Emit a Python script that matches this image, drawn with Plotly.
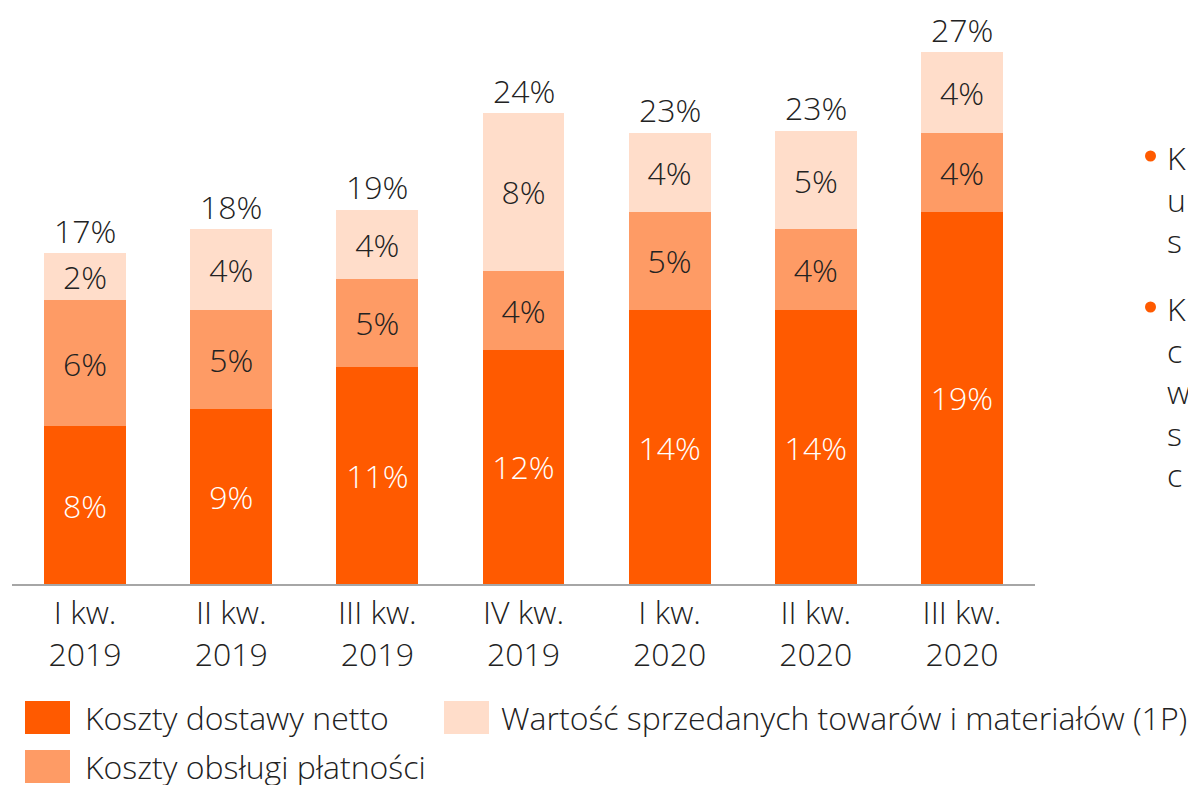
import plotly.graph_objects as go

categories = ["I kw.<br>2019", "II kw.<br>2019", "III kw.<br>2019", "IV kw.<br>2019",
              "I kw.<br>2020", "II kw.<br>2020", "III kw.<br>2020"]
koszty_dostawy = [8.0, 8.9, 11.0, 11.9, 13.9, 13.9, 18.9]
koszty_oblsugi = [6.4, 5.0, 4.5, 4.0, 5.0, 4.1, 4.0]
wartosc_1p = [2.4, 4.1, 3.5, 8.0, 4.0, 5.0, 4.1]
totals = [a + b + c for a, b, c in zip(koszty_dostawy, koszty_oblsugi, wartosc_1p)]

series_names = ["Koszty dostawy netto", "Koszty obsługi płatności",
                "Wartość sprzedanych towarów i materiałów (1P)"]
colors = ["#ff5a00", "#fe9b65", "#ffddca"]
text_colors = ["#ffffff", "#222222", "#222222"]

FONT = "Open Sans"
FS = 32
W, H = 1188, 785
L, R, T, B = 12, 153, 10, 201
plot_w = W - L - R
plot_h = H - T - B
px_per_unit = 19.7
y_max = plot_h / px_per_unit

fig = go.Figure()
for vals, name, col, tcol in zip([koszty_dostawy, koszty_oblsugi, wartosc_1p],
                                 series_names, colors, text_colors):
    fig.add_trace(go.Bar(
        x=categories, y=vals, name=name, marker=dict(color=col, line=dict(width=0)),
        texttemplate="%{y:.0f}%", textposition="inside", insidetextanchor="middle",
        textangle=0, textfont=dict(family=FONT, size=FS, color=tcol, weight=300),
        showlegend=False, hoverinfo="skip",
    ))

def px_to_paper_x(px):
    return (px - L) / plot_w

def px_to_paper_y(py):
    return (H - B - py) / plot_h

shapes = []
annotations = []

# totals above the bars
for cat, tot in zip(categories, totals):
    annotations.append(dict(x=cat, y=tot, xref="x", yref="y", text=f"{tot:.0f}%",
                            showarrow=False, yanchor="middle", yshift=23,
                            font=dict(family=FONT, size=FS, color="#222222", weight=300)))

legend_items = [
    (0, 25, 701, 83),
    (2, 444, 701, 499),
    (1, 25, 750, 83),
]
for idx, sx, sy, tx in legend_items:
    shapes.append(dict(type="rect", xref="paper", yref="paper",
                       x0=px_to_paper_x(sx), x1=px_to_paper_x(sx + 45),
                       y0=px_to_paper_y(sy + 33), y1=px_to_paper_y(sy),
                       fillcolor=colors[idx], line=dict(width=0)))
    annotations.append(dict(xref="paper", yref="paper", x=px_to_paper_x(tx),
                            y=px_to_paper_y(sy + 16), xanchor="left", yanchor="middle",
                            text=series_names[idx], showarrow=False,
                            font=dict(family=FONT, size=FS, color="#222222", weight=300)))

# side bullets (cut off at the right edge in the original)
for by, letters in [(156, "K<br>u<br>s"), (307, "K<br>c<br>w<br>s<br>c")]:
    shapes.append(dict(type="circle", xref="paper", yref="paper",
                       x0=px_to_paper_x(1145), x1=px_to_paper_x(1156),
                       y0=px_to_paper_y(by + 5.5), y1=px_to_paper_y(by - 5.5),
                       fillcolor="#ff5a00", line=dict(width=0)))
    annotations.append(dict(xref="paper", yref="paper", x=px_to_paper_x(1165),
                            y=px_to_paper_y(by - 22), xanchor="left", yanchor="top",
                            align="left", text=letters, showarrow=False,
                            font=dict(family=FONT, size=FS, color="#222222", weight=300)))

fig.update_layout(
    width=W, height=H, barmode="stack", bargap=0.44,
    margin=dict(l=L, r=R, t=T, b=B, pad=0),
    paper_bgcolor="white", plot_bgcolor="white",
    font=dict(family=FONT, size=FS, color="#222222", weight=300),
    uniformtext=dict(minsize=FS, mode="show"),
    shapes=shapes, annotations=annotations,
    xaxis=dict(showline=True, linecolor="#a6a6a6", linewidth=1.5, ticks="",
               tickfont=dict(family=FONT, size=FS, color="#222222", weight=300),
               showgrid=False, zeroline=False, fixedrange=True),
    yaxis=dict(range=[0, y_max], visible=False, showgrid=False, zeroline=False, fixedrange=True),
)

fig.write_html("out.html", config={"displayModeBar": False},
               post_script="document.body.style.margin='0';document.body.style.overflow='hidden';")
